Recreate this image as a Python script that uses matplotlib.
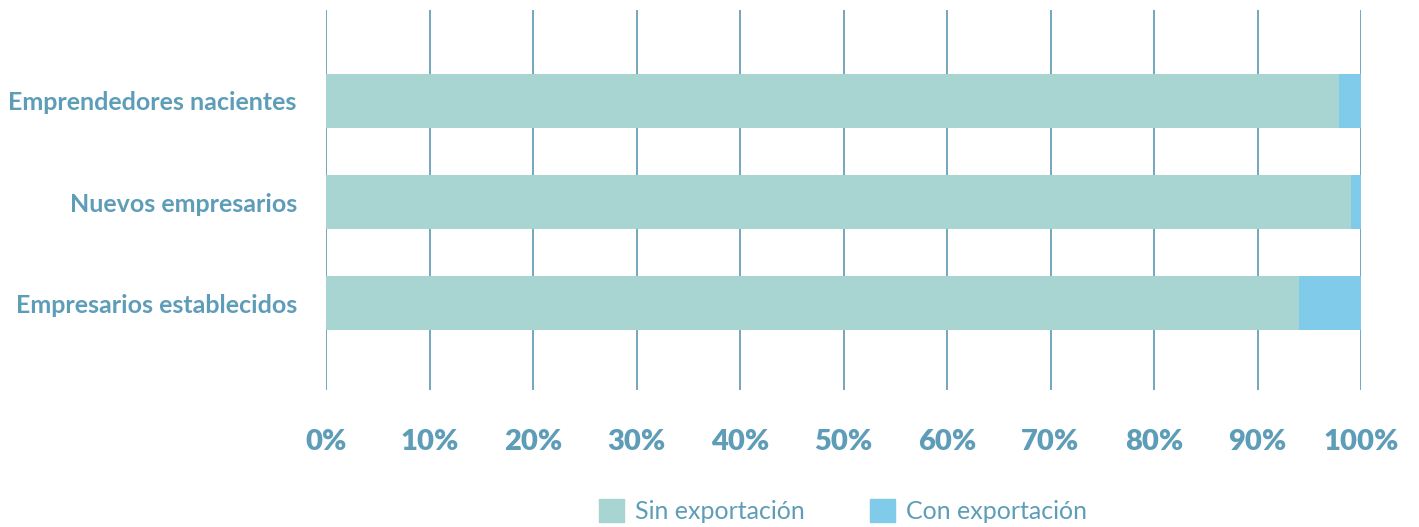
import numpy as np
import matplotlib.pyplot as plt
from matplotlib.patches import Patch

# data (percent)
categories = ["Emprendedores nacientes", "Nuevos empresarios", "Empresarios establecidos"]
sin_export = [97.9, 99.0, 94.0]
con_export = [2.1, 1.0, 6.0]
series_names = ["Sin exportación", "Con exportación"]
ticks = [0, 10, 20, 30, 40, 50, 60, 70, 80, 90, 100]

teal = "#a8d5d1"
blue = "#80caea"
text_col = "#5e9db8"
grid_col = "#5b97b3"

plt.rcParams['font.family'] = ['Lato', 'DejaVu Sans']

fig = plt.figure(figsize=(14.19, 5.27), dpi=100)
ax = fig.add_axes([326 / 1419, 1 - 390 / 527, 1035 / 1419, 380 / 527])

y = np.arange(len(categories))
ax.barh(y, sin_export, height=0.53, color=teal, zorder=2)
ax.barh(y, con_export, left=sin_export, height=0.53, color=blue, zorder=2)

ax.set_xlim(0, 100)
ax.set_ylim(2.86, -0.9)
ax.set_xticks(ticks)
ax.set_xticklabels([str(t) + "%" for t in ticks], fontsize=21, fontweight="heavy", color=text_col)
ax.set_yticks(y)
ax.set_yticklabels(categories, fontsize=18, fontweight="bold", color=text_col)
ax.tick_params(axis="x", length=0, pad=28)
ax.tick_params(axis="y", length=0, pad=21)
ax.grid(axis="x", color=grid_col, linewidth=1.2, zorder=0)
ax.set_axisbelow(True)
for s in ax.spines.values():
    s.set_visible(False)

handles = [Patch(color=teal), Patch(color=blue)]
fig.legend(handles, series_names, loc="center", bbox_to_anchor=(843 / 1419, 1 - 511 / 527),
           ncol=2, frameon=False, fontsize=18, labelcolor=text_col,
           handlelength=1.0, handleheight=1.0, columnspacing=2.6, handletextpad=0.45)

fig.savefig("out.png", dpi=100)
